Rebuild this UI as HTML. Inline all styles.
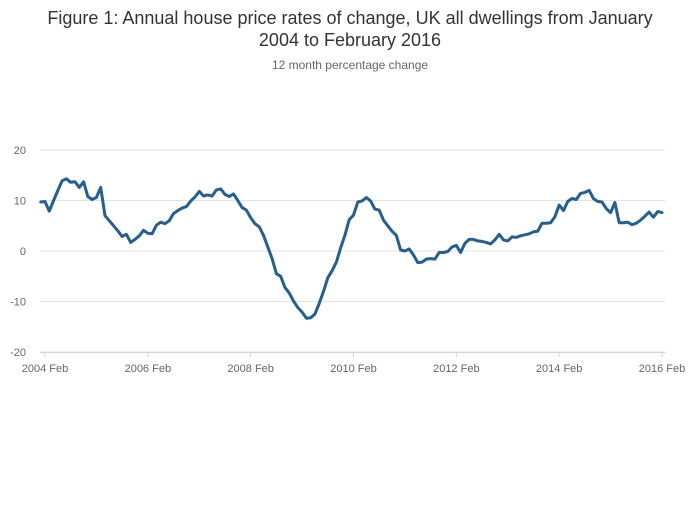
<!DOCTYPE html>
<html><head><meta charset="utf-8"><style>
body{margin:0;background:#fff;font-family:"Liberation Sans",sans-serif}
#c{position:relative;width:700px;height:502px}
</style></head><body>
<div id="c">
<svg id="s" width="700" height="502">
<text x="350" y="24" text-anchor="middle" font-size="18" fill="#333">Figure 1: Annual house price rates of change, UK all dwellings from January</text>
<text x="350" y="46" text-anchor="middle" font-size="18" fill="#333">2004 to February 2016</text>
<text x="350" y="69" text-anchor="middle" font-size="12" fill="#666">12 month percentage change</text>
<g id="grid"></g><g id="xa"></g><g id="plot"></g>
</svg>
</div>
<script>
const yTicks=[20,10,0,-10,-20];
const xTickLabels=["2004 Feb","2006 Feb","2008 Feb","2010 Feb","2012 Feb","2014 Feb","2016 Feb"];
const xTickMonths=[1,25,49,73,97,121,145];
const values2004=[9.7,9.8,7.9,10,12,13.9,14.3,13.6,13.7,12.6,13.7,10.8];
const values2005=[10.2,10.6,12.6,7,6,5,4,2.9,3.3,1.7,2.3,3];
const values2006=[4.1,3.5,3.4,5.1,5.7,5.4,6,7.4,8,8.5,8.8,9.9];
const values2007=[10.7,11.8,10.9,11.1,10.9,12.1,12.3,11.2,10.8,11.3,10,8.6];
const values2008=[8.1,6.6,5.4,4.8,3.1,0.8,-1.5,-4.5,-5,-7.2,-8.3,-9.9];
const values2009=[-11.2,-12.1,-13.3,-13.2,-12.5,-10.4,-8,-5.3,-3.9,-2.2,0.6,3.1];
const values2010=[6.2,7.1,9.7,9.9,10.6,9.9,8.3,8.1,6.1,5,3.9,3.1];
const values2011=[0.2,0,0.4,-0.8,-2.3,-2.2,-1.6,-1.5,-1.6,-0.3,-0.3,-0.1];
const values2012=[0.8,1.1,-0.3,1.5,2.3,2.3,2,1.9,1.7,1.4,2.2,3.3];
const values2013=[2.2,2,2.8,2.7,3.0,3.2,3.4,3.8,3.9,5.5,5.5,5.6];
const values2014=[6.8,9.1,8.0,9.8,10.4,10.2,11.4,11.6,12,10.4,9.8,9.7];
const values2015=[8.4,7.6,9.6,5.6,5.6,5.7,5.2,5.5,6.1,6.9,7.7,6.7];
const values2016=[7.8,7.6];
const series=[].concat(values2004,values2005,values2006,values2007,values2008,values2009,values2010,values2011,values2012,values2013,values2014,values2015,values2016);
const NS="http://www.w3.org/2000/svg";
const x0=45,x1=662,y0=251,py=5.05;
function xs(m){return x0+(m-1)*(x1-x0)/144;}
function ys(v){return y0-v*py;}
function mk(t,a,p){const e=document.createElementNS(NS,t);for(const k in a)e.setAttribute(k,a[k]);p.appendChild(e);return e;}
const g=document.getElementById('grid'),xa=document.getElementById('xa'),pl=document.getElementById('plot');
yTicks.forEach(v=>{
 const l=mk('line',{x1:40,x2:665,y1:ys(v),y2:ys(v),stroke:'#e2e2e2','stroke-width':1},g);
 
 
 const t=mk('text',{x:26,y:ys(v)+4,'text-anchor':'end','font-size':11,fill:'#666'},g);
 t.textContent=v;
 
 
});
const ax=mk('line',{x1:40,x2:665,y1:352.5,y2:352.5,stroke:'#ccd6eb','stroke-width':1},xa);


xTickLabels.forEach((lab,i)=>{
 const x=xs(xTickMonths[i]);
 const tk=mk('line',{x1:x,x2:x,y1:352,y2:357,stroke:'#ccd6eb'},xa);
 
 
 const t=mk('text',{x:x,y:372,'text-anchor':'middle','font-size':11,fill:'#666'},xa);
 t.textContent=lab;
 
 
});
const pts=series.map((v,i)=>xs(i).toFixed(1)+','+ys(v).toFixed(1)).join(' ');
const line=mk('polyline',{points:pts,fill:'none',stroke:'#206095','stroke-width':3,'stroke-linejoin':'round','stroke-linecap':'round'},pl);


</script>
</body></html>
